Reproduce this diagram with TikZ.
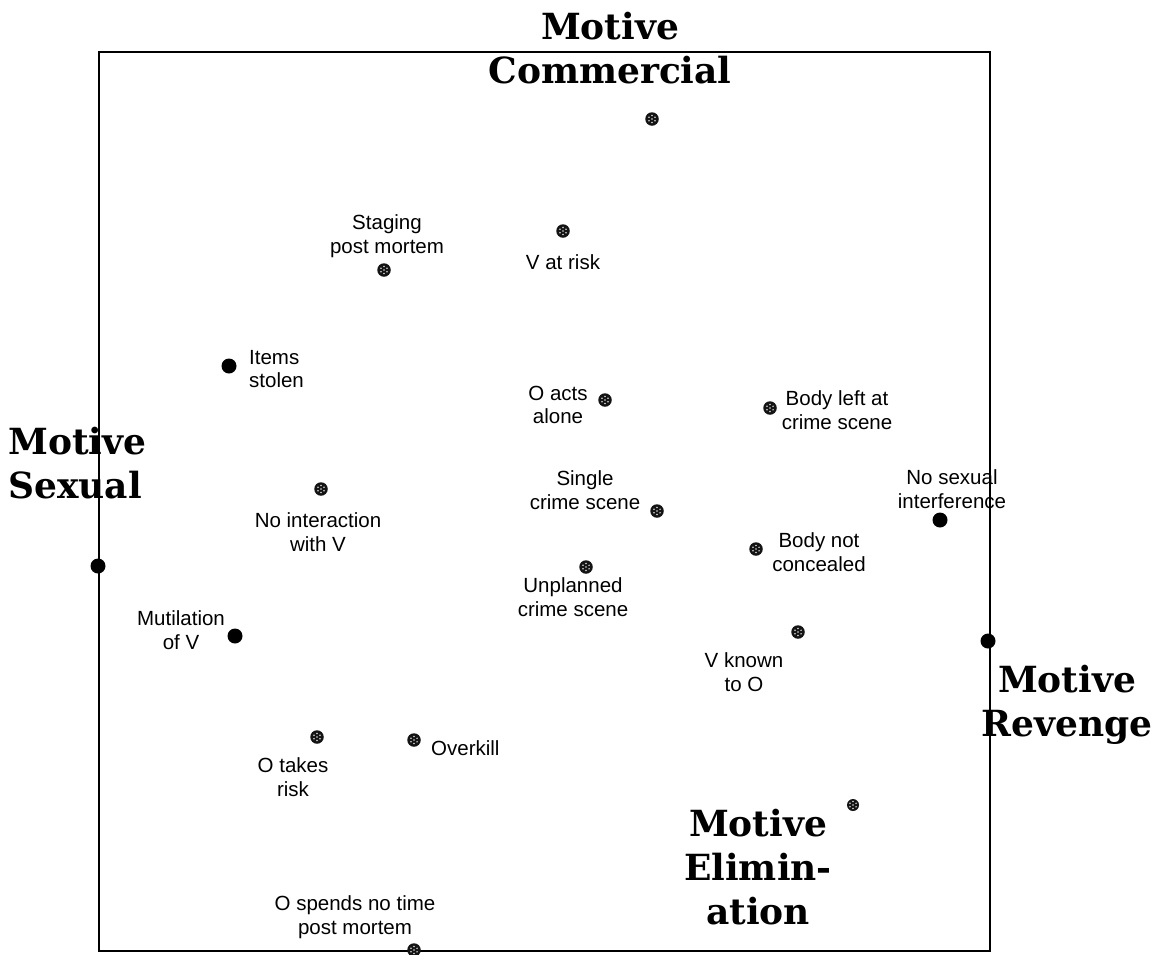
\documentclass[tikz,border=0pt]{standalone}
\usepackage{fontspec}
\newfontfamily\labfont{Liberation Sans}
\newfontfamily\motfont{DejaVu Serif}
\begin{document}
\begin{tikzpicture}[x=1pt,y=-1pt,
  lab/.style={font=\labfont\fontsize{20.5}{23.5}\selectfont, align=center, inner sep=0pt},
  motive/.style={font=\motfont\bfseries\fontsize{36}{44}\selectfont, align=center, inner sep=0pt},
  soliddot/.style={circle, fill=black, minimum size=15pt, inner sep=0pt},
  hatchdot/.style={circle, fill=black!92, minimum size=13.5pt, inner sep=0pt,
    path picture={
      \foreach \a in {30,90,...,330}
        {\fill[white!85!black] (path picture bounding box.center) ++(\a:3.5) circle (0.8);}
      \fill[white!85!black] (path picture bounding box.center) circle (0.8);}},
]
\useasboundingbox (0,0) rectangle (1164,954);

% plot frame
\draw[line width=2.2pt] (99,52) rectangle (990,951);

% motive points
\node[hatchdot] (pcom) at (652,119) {};
\node[soliddot] (psex) at (98,566) {};
\node[soliddot] (prev) at (988,641) {};
\node[hatchdot, minimum size=12pt] (pelim) at (853,805) {};

% offence behaviours
\node[hatchdot] (vrisk)   at (563,231) {};
\node[hatchdot] (staging) at (384,270) {};
\node[soliddot] (items)   at (229,366) {};
\node[hatchdot] (alone)   at (605,400) {};
\node[hatchdot] (bodyleft) at (770,408) {};
\node[hatchdot] (nointer) at (321,489) {};
\node[hatchdot] (single)  at (657,511) {};
\node[soliddot] (nosex)   at (940,520) {};
\node[hatchdot] (notconc) at (756,549) {};
\node[hatchdot] (unplan)  at (586,567) {};
\node[soliddot] (mutil)   at (235,636) {};
\node[hatchdot] (vknown)  at (798,632) {};
\node[hatchdot] (otakes)  at (317,737) {};
\node[hatchdot] (overkill) at (414,740) {};
\node[hatchdot] (nopost)  at (414,950) {};

% behaviour labels
\node[lab] (lvrisk)   at (563,262) {V at risk};
\node[lab] (lstaging) at (387,236) {Staging\\post mortem};
\node[lab, align=left, anchor=west] (litems) at (249,369) {Items\\stolen};
\node[lab] (lalone)   at (558,405) {O acts\\alone};
\node[lab] (lbodyleft) at (837,410) {Body left at\\crime scene};
\node[lab] (lnointer) at (318,532) {No interaction\\with V};
\node[lab] (lsingle)  at (585,490) {Single\\crime scene};
\node[lab] (lnosex)   at (952,489) {No sexual\\interference};
\node[lab] (lnotconc) at (819,552) {Body not\\concealed};
\node[lab] (lunplan)  at (573,597) {Unplanned\\crime scene};
\node[lab] (lmutil)   at (181,630) {Mutilation\\of V};
\node[lab] (lvknown)  at (744,672) {V known\\to O};
\node[lab] (lotakes)  at (293,777) {O takes\\risk};
\node[lab, anchor=west] (loverkill) at (431,748) {Overkill};
\node[lab] (lnopost)  at (355,917) {O spends no time\\post mortem};

% motive labels
\node[motive] (lcom)  at (610,48)  {Motive\\Commercial};
\node[motive, align=left, anchor=west] (lsex) at (8,463) {Motive\\Sexual};
\node[motive] (lrev)  at (1067,705) {Motive\\Revenge};
\node[motive] (lelim) at (758,867) {Motive\\Elimin-\\ation};
\end{tikzpicture}
\end{document}
